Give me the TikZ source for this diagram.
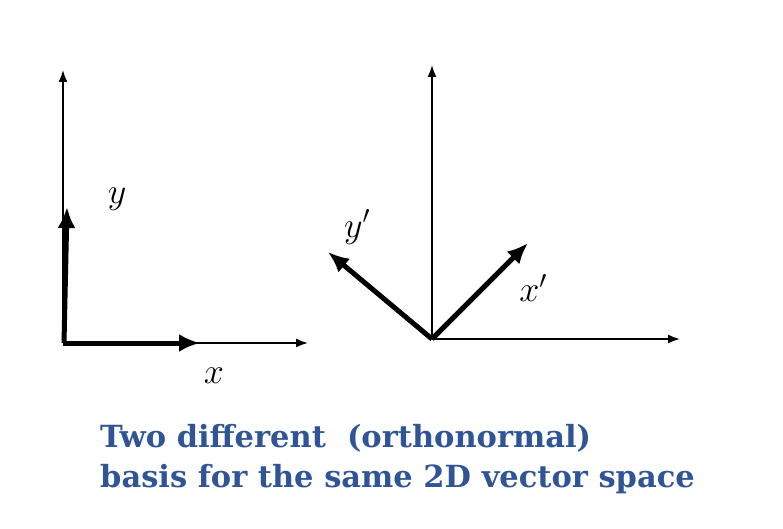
\RequirePackage{fix-cm}
\documentclass[tikz,border=0pt]{standalone}
\usepackage{fontspec}
\usetikzlibrary{arrows.meta, positioning}
\newfontfamily\captionfont{DejaVu Serif}
\definecolor{CaptionBlue}{HTML}{2F5597}
\tikzset{
  axis/.style={-{Latex[length=12pt, width=9pt]}, line width=1.8pt, draw=black},
  basisvec/.style={-{Latex[length=21pt, width=18pt]}, line width=5pt, draw=black},
  veclabel/.style={inner sep=0pt, font=\fontsize{36}{40}\selectfont},
  caption/.style={anchor=base west, inner sep=0pt, align=left, text=CaptionBlue, font=\captionfont\bfseries\fontsize{30.5}{40}\selectfont}
}
\begin{document}
\begin{tikzpicture}[x=1pt, y=-1pt]
\useasboundingbox (0,0) rectangle (783,529);
% standard basis
\coordinate (o1) at (63,343);
\coordinate (xend) at (308,343);
\coordinate (yend) at (63,70);
\coordinate (ex) at (200,343);
\coordinate (ey) at (67,207);
\draw[axis] (o1) -- (xend);
\draw[axis] (o1) -- (yend);
\draw[basisvec] (o1) -- (ex);
\draw[basisvec] ([xshift=1pt]o1) -- (ey);
\node[veclabel] (lx) at (214,376) {$x$};
\node[veclabel] (ly) at (117,199) {$y$};
% rotated basis
\coordinate (o2) at (432,339);
\coordinate (x2end) at (680,339);
\coordinate (y2end) at (432,65);
\coordinate (ex2) at (528,243);
\coordinate (ey2) at (328,252);
\draw[axis] (o2) -- (x2end);
\draw[axis] (o2) -- (y2end);
\draw[basisvec] (o2) -- (ex2);
\draw[basisvec] (o2) -- (ey2);
\node[veclabel] (lx2) at (533,288) {$x'$};
\node[veclabel] (ly2) at (357,227) {$y'$};
% caption
\node[caption] (cap) at (100,487) {Two different\ \ (orthonormal)\\basis for the same 2D vector space};
\end{tikzpicture}
\end{document}
